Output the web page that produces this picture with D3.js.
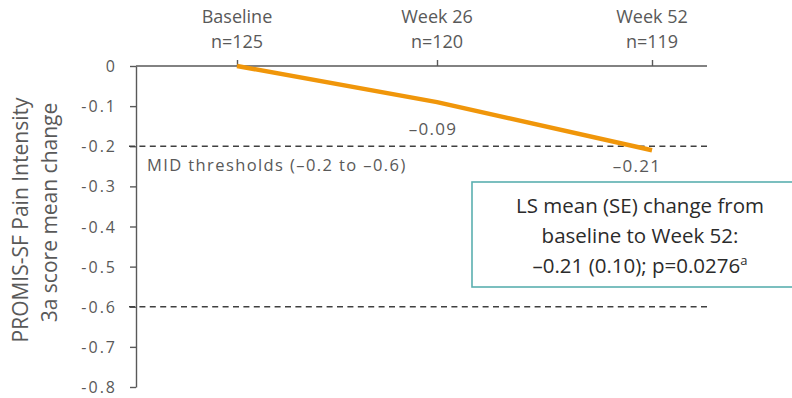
<!DOCTYPE html>
<html>
<head>
<meta charset="utf-8">
<script src="https://cdn.jsdelivr.net/npm/d3@7"></script>
<style>
  html, body { margin: 0; padding: 0; background: #fff; }
  svg text { font-family: "Open Sans", "Noto Sans", sans-serif; fill: #595959; }
</style>
</head>
<body>
<svg id="chart" width="792" height="398"></svg>
<script>
// Visits along the top axis, with patient counts
const visits = ["Baseline", "Week 26", "Week 52"];
const visitWeeks = [0, 26, 52];
const visitN = ["n=125", "n=120", "n=119"];
// Mean change from baseline at each visit
const meanChange = [0, -0.09, -0.21];
const changeLabels = ["", "\u20130.09", "\u20130.21"];
// Y axis ticks and MID threshold lines
const yTicks = [0, -0.1, -0.2, -0.3, -0.4, -0.5, -0.6, -0.7, -0.8];
const midThresholds = [-0.2, -0.6];
const boxLines = ["LS mean (SE) change from", "baseline to Week 52:", "\u20130.21 (0.10); p=0.0276"];

const svg = d3.select("#chart");
const plotLeft = 136, plotRight = 707, plotTop = 66, plotBottom = 387;

const x = d3.scaleLinear().domain(visitWeeks).range([237, 437, 652]);
const y = d3.scaleLinear().domain([0, -0.8]).range([plotTop, plotBottom]);

const axisColor = "#595959";

// Y axis (plain hyphen for negative ticks)
const yAxis = svg.append("g").attr("transform", `translate(${plotLeft},0)`)
  .call(d3.axisLeft(y).tickValues(yTicks).tickSize(6).tickSizeOuter(0)
    .tickFormat(d => d === 0 ? "0" : "-" + d3.format(".1f")(Math.abs(d))));
yAxis.select(".domain").attr("stroke", axisColor).attr("stroke-width", 1.4);
yAxis.selectAll(".tick line").attr("stroke", axisColor).attr("stroke-width", 1.4);
yAxis.selectAll(".tick text").attr("x", -19).attr("dy", "0.35em")
  .attr("font-family", null).attr("font-size", null)
  .style("font-size", "16px").style("letter-spacing", "2px");

// Top axis along y = 0
const xAxis = svg.append("g").attr("transform", `translate(0,${plotTop})`)
  .call(d3.axisTop(x).tickValues(visitWeeks).tickSize(6).tickSizeOuter(0).tickFormat(""));
xAxis.select(".domain").attr("d", `M${plotLeft},0H${plotRight}`)
  .attr("stroke", axisColor).attr("stroke-width", 1.4);
xAxis.selectAll(".tick line").attr("stroke", axisColor).attr("stroke-width", 1.4);

// Visit names and counts
visitWeeks.forEach((w, i) => {
  svg.append("text").attr("x", x(w)).attr("y", 23).attr("text-anchor", "middle")
    .style("font-size", "18px").text(visits[i]);
  svg.append("text").attr("x", x(w)).attr("y", 48).attr("text-anchor", "middle")
    .style("font-size", "18px").text(visitN[i]);
});

// MID threshold lines
svg.selectAll(".mid").data(midThresholds).enter().append("line")
  .attr("x1", plotLeft - 7).attr("x2", plotRight)
  .attr("y1", d => y(d)).attr("y2", d => y(d))
  .attr("stroke", "#404040").attr("stroke-width", 1.3).attr("stroke-dasharray", "6,4.4");

svg.append("text").attr("x", 147).attr("y", 171)
  .style("font-size", "16.5px").style("letter-spacing", "1.4px")
  .text("MID thresholds (\u20130.2 to \u20130.6)");

// Mean change line
const line = d3.line().x((d, i) => x(visitWeeks[i])).y(d => y(d));
svg.append("path").datum(meanChange).attr("d", line)
  .attr("fill", "none").attr("stroke", "#F0960A").attr("stroke-width", 4.5)
  .attr("stroke-linejoin", "round");

// Value labels
svg.append("text").attr("x", x(visitWeeks[1]) - 4).attr("y", y(meanChange[1]) + 33)
  .attr("text-anchor", "middle").style("font-size", "17px").style("letter-spacing", "1.3px")
  .text(changeLabels[1]);
svg.append("text").attr("x", x(visitWeeks[2]) - 15).attr("y", y(meanChange[2]) + 22)
  .attr("text-anchor", "middle").style("font-size", "17px").style("letter-spacing", "1.3px")
  .text(changeLabels[2]);

// LS mean annotation box
svg.append("rect").attr("x", 472).attr("y", 182).attr("width", 340).attr("height", 105)
  .attr("fill", "#fff").attr("stroke", "#5AAFB0").attr("stroke-width", 1.6);
const boxText = svg.append("g");
boxLines.forEach((t, i) => {
  const tx = boxText.append("text").attr("x", 640).attr("y", 213 + i * 30)
    .attr("text-anchor", "middle").style("font-size", "20.5px").style("fill", "#2b2b2b").text(t);
  if (i === 2) tx.append("tspan").attr("dy", -8).style("font-size", "13px").text("a");
});

// Y axis title
const yt = svg.append("text").attr("transform", "translate(0,220) rotate(-90)")
  .attr("text-anchor", "middle").style("font-size", "21px");
yt.append("tspan").attr("x", 0).attr("y", 28).text("PROMIS-SF Pain Intensity");
yt.append("tspan").attr("x", 7.5).attr("y", 57).text("3a score mean change");
</script>
</body>
</html>
